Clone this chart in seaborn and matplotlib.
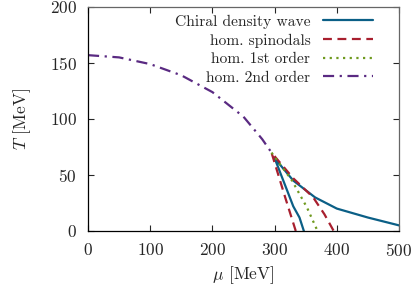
import numpy as np
import pandas as pd
import matplotlib
matplotlib.use("Agg")
import matplotlib.pyplot as plt
import seaborn as sns

# ---- data ----
cdw_mu = [347, 340, 330, 300, 330, 365, 400, 450, 500]
cdw_T = [0, 12, 22, 65, 45, 30, 20, 12, 5]

spin_mu = [334, 317, 295, 330, 362, 380, 395]
spin_T = [0, 30, 70, 47, 30, 15, 0]

first_mu = [295, 328, 352, 369]
first_T = [70, 45, 21, 0]

second_mu = [0, 50, 100, 150, 200, 250, 280, 295]
second_T = [157, 155, 149, 139, 124, 102, 82, 70]

labels = ["Chiral density wave", "hom. spinodals", "hom. 1st order", "hom. 2nd order"]
colors = ["#0b5f86", "#a81f2e", "#6f9a1f", "#5a2a82"]

sns.set_style("ticks")
plt.rcParams["font.family"] = ["cmr10", "DejaVu Serif"]
plt.rcParams["mathtext.fontset"] = "cm"
plt.rcParams["axes.formatter.use_mathtext"] = True
plt.rcParams["axes.unicode_minus"] = False

fig = plt.figure(figsize=(4.14, 2.88), dpi=100)
ax = fig.add_axes([0.2126, 0.198, 0.7512, 0.7777])

curves = [
    (cdw_mu, cdw_T, "-"),
    (spin_mu, spin_T, (0, (4, 2.5))),
    (first_mu, first_T, (0, (1, 2))),
    (second_mu, second_T, (0, (5, 2.5, 1, 2.5))),
]
for (x, y, ls), lab, c in zip(curves, labels, colors):
    df = pd.DataFrame({"mu": x, "T": y})
    sns.lineplot(data=df, x="mu", y="T", sort=False, estimator=None,
                 color=c, lw=1.6, linestyle=ls, label=lab, ax=ax)

ax.set_xlim(0, 500)
ax.set_ylim(0, 200)
ax.set_xticks(range(0, 501, 100))
ax.set_yticks(range(0, 201, 50))
ax.tick_params(direction="in", top=True, right=True, labelsize=12.5,
               length=4, width=0.8, pad=8)
for side in ["left", "bottom"]:
    ax.spines[side].set_color("black")
for side in ["top", "right"]:
    ax.spines[side].set_color("#666666")
for s in ax.spines.values():
    s.set_linewidth(0.9)

ax.set_xlabel(r"$\mu$ [MeV]", fontsize=12.5, labelpad=4)
ax.set_ylabel(r"$T$ [MeV]", fontsize=12.5, labelpad=12)

leg = ax.legend(loc="upper right", bbox_to_anchor=(0.93, 0.987), frameon=False,
                markerfirst=False, fontsize=11.2, handlelength=3.2,
                labelspacing=0.3, borderaxespad=0.0, borderpad=0.3,
                handletextpad=0.8)
for t in leg.get_texts():
    t.set_ha("right")
leg._legend_box.align = "right"

fig.savefig("out.png", dpi=100)
